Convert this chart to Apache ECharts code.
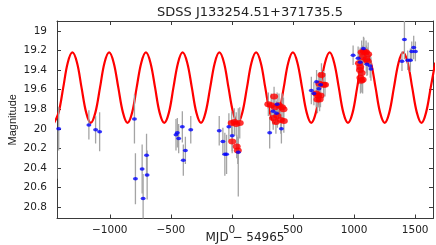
<!DOCTYPE html>
<html>
<head>
<meta charset="utf-8">
<script src="https://cdn.jsdelivr.net/npm/echarts@6/dist/echarts.min.js"></script>
<style>html,body{margin:0;padding:0;background:#fff}#c{width:436px;height:245px}</style>
</head>
<body>
<div id="c"></div>
<script>
// ---- data ----
const titleText = 'SDSS J133254.51+371735.5';
const xTicks = [-1000, -500, 0, 500, 1000, 1500];
const yTicks = [19, 19.2, 19.4, 19.6, 19.8, 20, 20.2, 20.4, 20.6, 20.8];

// model curve, sampled from the drawn red line
const curveMJD = [-1456,-1419,-1381,-1344,-1306,-1268,-1231,-1193,-1156,-1118,-1080,-1043,-1005,-968,-930,-892,-855,-817,-780,-742,-704,-667,-629,-592,-554,-516,-479,-441,-404,-366,-328,-291,-253,-216,-178,-140,-103,-65,-28,10,48,85,123,160,198,236,273,311,348,386,424,461,499,536,574,612,649,687,724,762,800,837,875,912,950,988,1025,1063,1100,1138,1176,1213,1251,1288,1326,1364,1401,1439,1476,1514,1552,1589,1627,1664];
const curveMag = [19.94,19.835,19.58,19.325,19.22,19.325,19.58,19.835,19.94,19.835,19.58,19.325,19.22,19.325,19.58,19.835,19.94,19.835,19.58,19.325,19.22,19.325,19.58,19.835,19.94,19.835,19.58,19.325,19.22,19.325,19.58,19.835,19.94,19.835,19.58,19.325,19.22,19.325,19.58,19.835,19.94,19.835,19.58,19.325,19.22,19.325,19.58,19.835,19.94,19.835,19.58,19.325,19.22,19.325,19.58,19.835,19.94,19.835,19.58,19.325,19.22,19.325,19.58,19.835,19.94,19.835,19.58,19.325,19.22,19.325,19.58,19.835,19.94,19.835,19.58,19.325,19.22,19.325,19.58,19.835,19.94,19.835,19.58,19.325];

// blue points
const blueMJD = [-1434,-1418,-1171,-1116,-1083,-798,-790,-735,-727,-699,-694,-458,-447,-436,-406,-398,-381,-337,-104,-74,-58,-44,-25,2,52,309,337,365,370,405,650,671,693,712,726,992,1033,1050,1077,1105,1132,1138,1392,1412,1439,1461,1472,1488,1502];
const blueMag = [20.26,20.00,19.96,20.01,20.03,19.90,20.51,20.41,20.71,20.27,20.47,20.06,20.04,20.10,19.98,20.32,20.22,20.01,20.02,20.13,20.26,20.26,19.98,20.07,20.24,20.04,19.82,19.84,19.75,20.00,19.61,19.64,19.52,19.59,19.55,19.25,19.28,19.32,19.18,19.34,19.36,19.39,19.31,19.09,19.30,19.30,19.21,19.17,19.21];
const blueErr = [0.25,0.22,0.15,0.14,0.20,0.25,0.26,0.25,0.25,0.22,0.25,0.16,0.15,0.15,0.16,0.16,0.14,0.14,0.15,0.14,0.22,0.20,0.14,0.16,0.45,0.16,0.14,0.12,0.12,0.15,0.14,0.12,0.12,0.12,0.12,0.10,0.12,0.15,0.12,0.12,0.12,0.12,0.10,0.20,0.10,0.12,0.10,0.12,0.10];

// red points
const redMJD = [-2,20,35,64,2,39,48, 345,298,322,352,385,410,422,338,372,400,425,360, 733,716,750,762,690,705,725,700,718, 1062,1080,1098,1115,1070,1100,1110,1040,1050,1048,1062,1052,1070,1058];
const redMag = [19.94,19.93,19.95,19.94,20.13,20.18,20.22, 19.67,19.75,19.76,19.78,19.76,19.78,19.80,19.89,19.87,19.91,19.92,19.93, 19.45,19.54,19.55,19.55,19.64,19.66,19.66,19.70,19.70, 19.22,19.21,19.22,19.24,19.27,19.29,19.31,19.33,19.37,19.40,19.43,19.48,19.50,19.51];
const redErr = [0.12,0.14,0.12,0.16,0.12,0.12,0.14, 0.10,0.12,0.12,0.12,0.12,0.14,0.12,0.12,0.12,0.14,0.12,0.12, 0.12,0.12,0.14,0.12,0.14,0.12,0.12,0.14,0.12, 0.12,0.14,0.12,0.12,0.12,0.14,0.14,0.12,0.16,0.14,0.12,0.16,0.14,0.12];

// ---- build ----
const zip2 = (a, b) => a.map((v, i) => [v, b[i]]);
const zip3 = (a, b, c) => a.map((v, i) => [v, b[i], c[i]]);
const errData = zip3(redMJD, redMag, redErr).concat(zip3(blueMJD, blueMag, blueErr));

const FONT = 'DejaVu Sans';
const FRAME = '#3a3a3a';
const minusFmt = v => (v < 0 ? '\u2212' + Math.abs(v) : String(v));

const xBase = {
  type: 'value', min: -1432, max: 1646, splitLine: {show: false},
  axisLine: {show: true, onZero: false, lineStyle: {color: FRAME, width: 1}},
  axisTick: {show: true, inside: true, length: 4, customValues: xTicks, lineStyle: {color: FRAME}},
};
const yBase = {
  type: 'value', inverse: true, min: 18.9, max: 20.915, splitLine: {show: false},
  axisLine: {show: true, onZero: false, lineStyle: {color: FRAME, width: 1}},
  axisTick: {show: true, inside: true, length: 4, customValues: yTicks, lineStyle: {color: FRAME}},
};

const chart = echarts.init(document.getElementById('c'), null, {renderer: 'canvas'});
chart.setOption({
  animation: false,
  backgroundColor: '#fff',
  title: {
    text: titleText, left: 245, top: 1, textAlign: 'center',
    textStyle: {fontFamily: FONT, fontSize: 13, fontWeight: 'normal', color: '#222'}
  },
  grid: {left: 57, right: 3, top: 21, bottom: 26.5, containLabel: false, outerBoundsMode: 'none'},
  xAxis: [
    Object.assign({}, xBase, {
      position: 'bottom',
      name: 'MJD \u2212 54965', nameLocation: 'middle', nameGap: 13, nameMoveOverlap: false,
      nameTextStyle: {fontFamily: FONT, fontSize: 12, color: '#222', verticalAlign: 'top'},
      axisLabel: {show: true, customValues: xTicks, formatter: minusFmt, margin: 6,
        fontFamily: FONT, fontSize: 10.5, color: '#222'}
    }),
    Object.assign({}, xBase, {position: 'top', axisLabel: {show: false}})
  ],
  yAxis: [
    Object.assign({}, yBase, {
      position: 'left',
      name: 'Magnitude', nameLocation: 'middle', nameGap: 39, nameRotate: 90, nameMoveOverlap: false,
      nameTextStyle: {fontFamily: 'Liberation Sans', fontSize: 11, color: '#222'},
      axisLabel: {show: true, customValues: yTicks, margin: 10,
        fontFamily: FONT, fontSize: 10.5, color: '#222'}
    }),
    Object.assign({}, yBase, {position: 'right', axisLabel: {show: false}})
  ],
  series: [
    {
      type: 'line', name: 'model', xAxisIndex: 0, yAxisIndex: 0,
      data: zip2(curveMJD, curveMag), smooth: 0.37, showSymbol: false, symbol: 'none',
      lineStyle: {color: '#ff0000', width: 2.2}, clip: true, z: 1
    },
    {
      type: 'custom', name: 'errors', xAxisIndex: 0, yAxisIndex: 0,
      data: errData, encode: {x: 0, y: 1}, clip: true, z: 2,
      renderItem: function (params, api) {
        const x = api.value(0), y = api.value(1), e = api.value(2);
        const p1 = api.coord([x, y - e]);
        const p2 = api.coord([x, y + e]);
        return {
          type: 'line',
          shape: {x1: p1[0], y1: p1[1], x2: p2[0], y2: p2[1]},
          style: {stroke: '#a4a4a4', lineWidth: 1.3}
        };
      }
    },
    {
      type: 'scatter', name: 'red', xAxisIndex: 0, yAxisIndex: 0,
      data: zip2(redMJD, redMag), symbol: 'circle', symbolSize: [8, 6],
      itemStyle: {color: '#ff0000'}, clip: true, z: 3
    },
    {
      type: 'scatter', name: 'blue', xAxisIndex: 0, yAxisIndex: 0,
      data: zip2(blueMJD, blueMag), symbol: 'circle', symbolSize: [5, 3.5],
      itemStyle: {color: '#0000ff'}, clip: true, z: 4
    }
  ]
});
</script>
</body>
</html>
